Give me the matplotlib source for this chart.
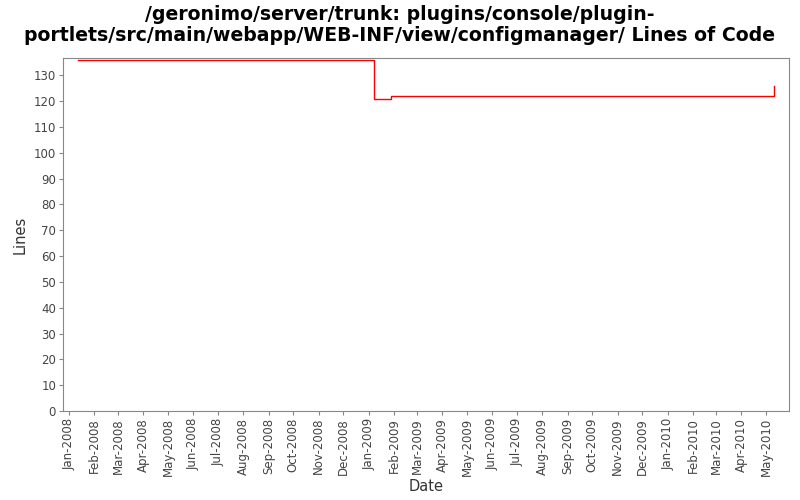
import matplotlib

matplotlib.use("Agg")
import matplotlib.pyplot as plt  # noqa: E402
import matplotlib.dates as mdates  # noqa: E402
import pandas as pd  # noqa: E402

# step points (date, lines of code)
dates = ["2008-01-12", "2009-01-08", "2009-01-28", "2010-05-11", "2010-05-11"]
lines = [136, 121, 122, 122, 126]

title = ("/geronimo/server/trunk: plugins/console/plugin-\n"
         "portlets/src/main/webapp/WEB-INF/view/configmanager/ Lines of Code")

x = pd.to_datetime(dates)

fig = plt.figure(figsize=(8, 5), dpi=100)
ax = fig.add_axes([63 / 800, 89 / 500, 726 / 800, 353 / 500])
ax.step(x, lines, where="post", color="red", linewidth=1.0)

ax.set_xlim(pd.Timestamp("2007-12-25"), pd.Timestamp("2010-05-29"))
ax.set_ylim(0, 136.7)
ax.set_yticks(range(0, 131, 10))
ax.xaxis.set_major_locator(mdates.MonthLocator())
ax.xaxis.set_major_formatter(mdates.DateFormatter("%b-%Y"))
plt.setp(ax.get_xticklabels(), rotation=90)

for s in ax.spines.values():
    s.set_color("#888888")
ax.tick_params(colors="#888888", labelcolor="#444444", labelsize=8.5, length=3, pad=2)
ax.set_xlabel("Date", fontsize=10.5, color="#333333", labelpad=2)
ax.set_ylabel("Lines", fontsize=10.5, color="#333333", labelpad=4)
fig.suptitle(title, fontsize=13.6, fontweight="bold", y=0.99, linespacing=1.15)

fig.savefig("out.png", dpi=100)
plt.close(fig)
